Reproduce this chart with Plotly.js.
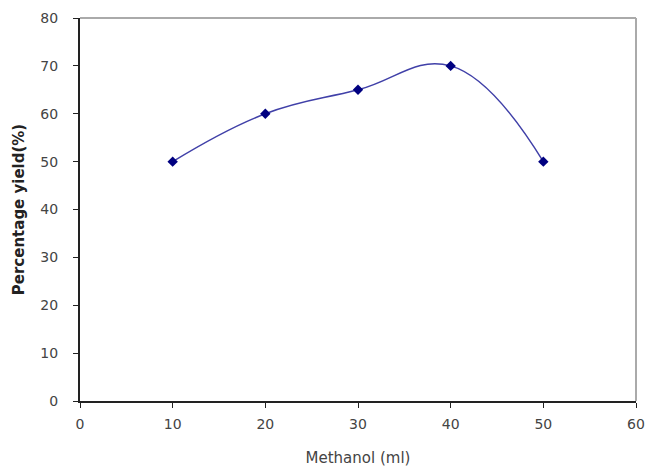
<!DOCTYPE html>
<html><head><meta charset="utf-8">
<script src="https://cdn.plot.ly/plotly-3.0.1.min.js"></script>
<style>html,body{margin:0;padding:0;background:#fff}#c{width:648px;height:469px}</style>
</head><body><div id="c"></div>
<script>
const methanol = [10, 20, 30, 40, 50];
const yieldPct = [50, 60, 65, 70, 50];
const xTicks = [0, 10, 20, 30, 40, 50, 60];
const yTicks = [0, 10, 20, 30, 40, 50, 60, 70, 80];

const trace = {
  x: methanol, y: yieldPct, type: 'scatter', mode: 'lines+markers',
  line: {shape: 'spline', smoothing: 1.2, color: '#4040a8', width: 1.5},
  marker: {symbol: 'diamond', size: 8, color: '#000080'}
};
const font = {family: 'DejaVu Sans, sans-serif', color: '#444', size: 14};
const layout = {
  width: 648, height: 469,
  margin: {l: 80, r: 12, t: 18, b: 68},
  paper_bgcolor: '#fff', plot_bgcolor: '#fff',
  showlegend: false,
  font: font,
  xaxis: {range: [0, 60], tickvals: xTicks, showgrid: false, zeroline: false,
    showline: true, linecolor: '#222', linewidth: 2, ticks: 'outside', ticklen: 5, tickcolor: '#222',
    tickfont: font, ticklabelstandoff: 4,
    title: {text: 'Methanol (ml)', font: {family: font.family, color: '#444', size: 15}, standoff: 22}},
  yaxis: {range: [0, 80], tickvals: yTicks, showgrid: false, zeroline: false,
    showline: true, linecolor: '#222', linewidth: 2, ticks: 'outside', ticklen: 5, tickcolor: '#222',
    tickfont: font, ticklabelstandoff: 12,
    title: {text: '<b>Percentage yield(%)</b>', font: {family: font.family, color: '#222', size: 15}, standoff: 12}},
  shapes: [
    {type: 'line', xref: 'paper', yref: 'paper', x0: 0, x1: 1, y0: 1, y1: 1, line: {color: '#aaa', width: 2}},
    {type: 'line', xref: 'paper', yref: 'paper', x0: 1, x1: 1, y0: 0, y1: 1, line: {color: '#aaa', width: 2}}
  ]
};
Plotly.newPlot('c', [trace], layout, {displayModeBar: false, staticPlot: true});
</script></body></html>
